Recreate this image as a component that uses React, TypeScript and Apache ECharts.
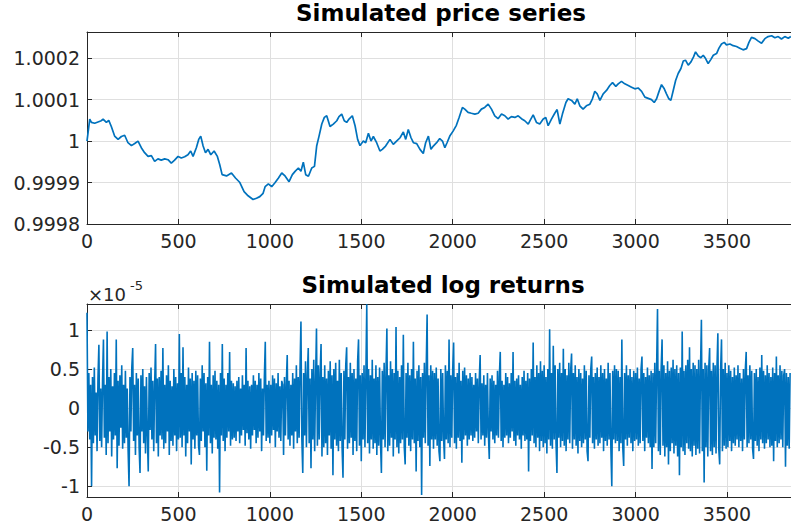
import React, { useEffect, useRef } from "react";
import * as echarts from "echarts";

// Simulated price series: [time index, price]
const priceSeries: [number, number][] = [
  [0,1],[15,1.000053],[24,1.000045],[42,1.000043],[60,1.000046],[78,1.000049],[88,1.000053],[106,1.000045],[119,1.00005],[133,1.000035],[151,1.000012],[170,1.000004],[188,1.000011],[206,1.000014],[224,0.999996],[243,0.999989],[261,0.999994],[279,1],[297,0.999984],[315,0.999972],[334,0.999963],[352,0.999965],[370,0.999951],[388,0.999957],[406,0.999954],[425,0.999957],[443,0.999955],[461,0.999947],[479,0.999954],[498,0.999963],[516,0.999959],[534,0.999962],[552,0.999967],[567,0.999976],[580,0.999963],[598,0.999984],[611,1.000004],[622,1.000012],[635,0.999988],[648,0.999972],[662,0.99998],[677,0.999967],[695,0.999976],[713,0.999963],[726,0.999943],[739,0.999919],[763,0.999916],[790,0.999923],[812,0.999911],[836,0.9999],[859,0.999878],[881,0.999868],[908,0.999859],[927,0.999862],[945,0.999866],[963,0.999874],[974,0.99989],[992,0.999897],[1010,0.99989],[1029,0.9999],[1047,0.999911],[1065,0.999923],[1083,0.999916],[1105,0.999902],[1123,0.999919],[1138,0.999927],[1156,0.999935],[1170,0.999927],[1183,0.999949],[1196,0.999919],[1211,0.999915],[1229,0.999935],[1244,0.999939],[1256,0.999988],[1269,1.000012],[1284,1.000041],[1298,1.000057],[1311,1.000061],[1329,1.000035],[1347,1.000041],[1366,1.000049],[1378,1.000059],[1393,1.000065],[1407,1.000049],[1420,1.000045],[1433,1.000053],[1451,1.000061],[1466,1.000037],[1480,1.000004],[1493,0.999989],[1511,1],[1524,0.999996],[1539,1.000019],[1553,1],[1566,1.000011],[1584,0.999996],[1602,0.999976],[1615,0.99998],[1633,0.999988],[1657,1.000004],[1675,0.999992],[1693,1],[1712,1.000008],[1730,1.000022],[1743,1.000004],[1757,1.000028],[1772,1.000008],[1785,0.999996],[1803,0.999994],[1821,0.99998],[1839,0.99997],[1852,0.999996],[1867,1.000012],[1881,0.99998],[1894,0.999988],[1912,0.999996],[1929,1.000006],[1944,1],[1957,0.999984],[1969,0.999996],[1984,1.000012],[2002,1.000024],[2020,1.000038],[2035,1.000057],[2053,1.000081],[2066,1.000077],[2084,1.000069],[2102,1.000067],[2121,1.000065],[2139,1.000067],[2157,1.000077],[2175,1.000081],[2194,1.000089],[2212,1.000077],[2230,1.000061],[2248,1.000054],[2267,1.000065],[2285,1.000061],[2303,1.000053],[2321,1.000059],[2340,1.000057],[2358,1.000061],[2376,1.000054],[2394,1.000049],[2413,1.000041],[2425,1.000051],[2440,1.000063],[2458,1.000045],[2476,1.000041],[2495,1.000053],[2509,1.000057],[2522,1.000037],[2540,1.000053],[2558,1.000067],[2571,1.000076],[2586,1.000041],[2600,1.000065],[2619,1.000093],[2631,1.000102],[2650,1.000098],[2668,1.000089],[2681,1.000102],[2695,1.000085],[2713,1.000077],[2731,1.000085],[2750,1.000089],[2764,1.000102],[2777,1.00012],[2790,1.000114],[2805,1.000098],[2823,1.000114],[2841,1.000122],[2859,1.000134],[2874,1.000141],[2892,1.000132],[2905,1.000138],[2923,1.000144],[2941,1.000138],[2960,1.000134],[2978,1.00013],[2996,1.000126],[3014,1.000128],[3033,1.00012],[3051,1.000106],[3069,1.000103],[3087,1.0001],[3102,1.000093],[3115,1.000102],[3127,1.000118],[3142,1.000136],[3157,1.000126],[3169,1.000114],[3182,1.000102],[3193,1.000098],[3206,1.000122],[3219,1.000146],[3233,1.000163],[3248,1.000175],[3261,1.000193],[3273,1.000195],[3288,1.000183],[3303,1.000191],[3317,1.000203],[3328,1.000215],[3343,1.000205],[3357,1.000201],[3370,1.000207],[3383,1.000199],[3397,1.000187],[3412,1.000197],[3425,1.000207],[3443,1.000211],[3456,1.000224],[3470,1.000234],[3485,1.000238],[3497,1.000232],[3516,1.000234],[3534,1.00023],[3552,1.000228],[3570,1.000224],[3588,1.00022],[3607,1.000223],[3620,1.000238],[3634,1.00025],[3653,1.000247],[3671,1.000241],[3689,1.000236],[3707,1.000247],[3725,1.000252],[3744,1.000254],[3762,1.000249],[3780,1.000252],[3798,1.000246],[3816,1.000252],[3835,1.000248],[3849,1.000252]
];

// Simulated log returns, one reading every returnStep time steps, in units of 1e-7
const returnStep = 5;
const logReturns: number[] = [
  122,-30,45,-40,30,-100,40,-45,52,-35,20,-55,38,81,-42,25,-50,35,88,-38,
  30,-60,98,-45,40,-30,50,-62,28,-40,45,-35,88,-77,35,-48,42,-25,55,-52,
  30,-45,48,-38,25,-55,-100,40,-30,52,77,-42,30,-60,45,-35,38,-50,-83,42,
  -30,50,-45,28,-58,40,-35,-81,45,-28,52,-40,35,-55,30,82,-45,38,-62,40,
  -35,48,-40,77,-52,30,-45,42,-30,55,-60,35,-42,28,-48,50,-35,40,-55,32,
  -40,95,-38,45,-50,78,-35,40,-62,30,-45,52,-30,38,-72,45,-40,35,-52,48,
  -35,42,-48,-60,38,-42,55,-30,45,-50,32,-80,40,-35,85,-45,30,-58,42,-38,
  48,-40,35,-52,30,-108,45,-35,82,-42,38,-55,30,-38,45,-30,72,-48,35,-40,
  32,-38,28,-42,35,-30,40,-45,25,-35,42,-28,30,-48,77,-32,35,-40,28,-52,
  30,-35,42,-28,35,-45,30,-38,45,-30,38,-55,25,-35,40,85,-42,30,-38,35,
  -45,30,-35,42,-28,38,-50,32,-30,45,-38,28,-42,35,30,-60,40,-35,32,68,
  -40,35,-48,30,-35,45,-52,38,-30,55,-45,40,-38,50,111,-40,-83,45,-35,60,
  -50,42,77,-45,38,-77,50,-40,62,-55,35,102,-48,55,-40,45,82,-62,40,-50,
  55,-45,38,-60,48,-35,60,-52,42,-86,50,-40,58,-48,35,-55,62,-42,45,-50,
  -89,48,-40,55,78,-52,40,-45,58,-38,45,-60,50,-42,38,-55,60,88,-48,42,
  -68,45,-40,55,-50,40,133,-45,50,-58,42,-40,62,-52,38,-45,55,-60,40,-48,
  52,-42,-83,48,-40,58,-50,45,102,-55,42,-48,60,-38,50,-62,45,-40,104,-50,
  48,-58,40,-45,55,-40,94,-50,-72,45,-38,58,-48,42,-55,50,-40,85,-45,38,
  -81,48,-42,55,-50,40,-111,45,-38,58,-45,50,120,-48,42,-74,55,-40,48,-52,
  45,-40,52,-48,38,-55,-68,50,-42,45,-38,-65,55,-40,48,-45,88,-50,42,-38,
  50,84,-45,40,-52,45,-38,58,-42,35,-70,48,-40,52,-35,42,-48,38,-40,45,
  -35,40,-42,30,-38,45,-30,38,-45,35,68,-40,32,-35,42,-48,30,-38,45,-32,
  -65,38,-30,42,-40,35,-45,30,-35,48,-38,40,72,-42,35,-50,30,-38,45,-35,
  40,-45,32,-38,45,-30,72,-42,35,-48,38,-35,42,-40,30,-52,40,-35,48,-42,
  35,-40,45,-81,38,-42,50,-35,84,-45,40,-50,55,-38,45,-55,60,-42,48,-50,
  55,-45,40,-58,50,-40,101,-48,45,-52,80,-40,55,-45,-83,50,-38,58,-50,45,
  -42,76,-48,50,-55,42,-40,58,-45,48,70,-52,45,-40,55,-48,40,-58,50,-42,
  45,-50,38,-45,55,-40,48,-55,-68,42,-38,50,66,-45,40,-52,45,-40,52,-48,
  40,-45,55,-38,45,-55,50,-42,38,-48,58,-40,45,-52,-100,48,-40,55,-45,50,
  -42,48,-55,40,-45,88,-50,-74,45,-40,55,-48,42,-38,50,-45,40,-55,48,-42,
  45,-40,52,-48,38,-45,50,66,-42,45,-55,40,-38,52,-45,42,-50,48,-78,45,
  -50,58,-45,50,127,-55,48,-60,52,88,-48,55,-62,45,-50,60,-72,48,-55,52,
  -45,62,-58,50,-48,55,-62,45,-86,52,-50,98,-55,48,-60,55,-45,62,-52,78,
  -55,50,-62,58,-48,55,-60,50,-52,62,-58,48,113,-55,50,-95,58,-50,55,-62,
  50,77,-55,48,-60,58,-50,55,-58,50,96,-52,-72,48,88,-55,50,-48,58,-52,
  45,-50,55,-42,48,-55,40,-45,52,-48,42,-40,55,-50,45,-42,38,-55,50,-40,
  48,72,-50,42,-45,55,-40,48,-52,-65,45,-42,50,-48,40,-55,52,-40,68,-45,
  48,-52,42,-45,55,-40,45,-50,40,-48,52,-68,45,-42,66,-50,42,-45,55,-40,
  48,-50,42,50,-75,45,-48,40,-52,45
];

const xTicks = [0, 500, 1000, 1500, 2000, 2500, 3000, 3500];
const priceTicks = [0.9998, 0.9999, 1, 1.0001, 1.0002];
const returnTicks = [-1, -0.5, 0, 0.5, 1];
const titles = ["Simulated price series", "Simulated log returns"];

const FONT = "DejaVu Sans";
const AX = "#262626";
const GRIDC = "#dfdfdf";
const LINE = "#0072BD";

function xAxes(gridIndex: number) {
  const base = {
    gridIndex,
    type: "value",
    min: 0,
    max: 3850,
  };
  return [
    {
      ...base,
      position: "bottom",
      axisLine: { show: true, onZero: false, lineStyle: { color: AX, width: 1 } },
      axisTick: { show: true, inside: true, length: 5, customValues: xTicks, lineStyle: { color: AX } },
      axisLabel: { customValues: xTicks, color: AX, fontSize: 19, fontFamily: FONT, margin: 7, formatter: (v: number) => String(v) },
      splitLine: { show: true, lineStyle: { color: GRIDC, width: 1 } },
    },
    {
      ...base,
      position: "top",
      axisLine: { show: true, onZero: false, lineStyle: { color: AX, width: 1 } },
      axisTick: { show: true, inside: true, length: 5, customValues: xTicks, lineStyle: { color: AX } },
      axisLabel: { show: false },
      splitLine: { show: false },
    },
  ];
}

export default function App() {
  const ref = useRef<HTMLDivElement>(null);
  useEffect(() => {
    if (!ref.current) return;
    const chart = echarts.init(ref.current, undefined, { renderer: "svg" });
    const priceData = priceSeries.map(([t, p]) => [t, p]);
    const returnData = logReturns.map((r, i) => [i * returnStep, r / 100]);
    chart.setOption({
      animation: false,
      backgroundColor: "#ffffff",
      grid: [
        { left: 87, top: 32, width: 704, height: 192 },
        { left: 87, top: 304, width: 704, height: 193 },
      ],
      xAxis: [...xAxes(0), ...xAxes(1)],
      yAxis: [
        {
          gridIndex: 0,
          type: "value",
          min: 0.9998,
          max: 1.000263,
          axisLine: { show: true, onZero: false, lineStyle: { color: AX, width: 1 } },
          axisTick: { show: true, inside: true, length: 5, customValues: priceTicks, lineStyle: { color: AX } },
          axisLabel: { customValues: priceTicks, color: AX, fontSize: 19, fontFamily: FONT, margin: 7, formatter: (v: number) => String(+v.toFixed(4)) },
          splitLine: { show: true, lineStyle: { color: GRIDC, width: 1 } },
        },
        {
          gridIndex: 1,
          type: "value",
          min: -1.137,
          max: 1.333,
          axisLine: { show: true, onZero: false, lineStyle: { color: AX, width: 1 } },
          axisTick: { show: true, inside: true, length: 5, customValues: returnTicks, lineStyle: { color: AX } },
          axisLabel: { customValues: returnTicks, color: AX, fontSize: 19, fontFamily: FONT, margin: 7, formatter: (v: number) => String(+v.toFixed(2)) },
          splitLine: { show: true, lineStyle: { color: GRIDC, width: 1 } },
        },
      ],
      graphic: [
        {
          type: "text",
          x: 441,
          y: 13,
          style: { text: titles[0], fill: "#000", fontSize: 23, fontWeight: "bold", fontFamily: FONT, align: "center", verticalAlign: "middle" },
        },
        {
          type: "text",
          x: 443,
          y: 285,
          style: { text: titles[1], fill: "#000", fontSize: 23, fontWeight: "bold", fontFamily: FONT, align: "center", verticalAlign: "middle" },
        },
        {
          type: "text",
          x: 88,
          y: 294,
          style: { text: "×10", fill: AX, fontSize: 18, fontFamily: FONT, align: "left", verticalAlign: "middle" },
        },
        {
          type: "text",
          x: 130,
          y: 285,
          style: { text: "-5", fill: AX, fontSize: 13, fontFamily: FONT, align: "left", verticalAlign: "middle" },
        },
      ],
      series: [
        {
          type: "line",
          xAxisIndex: 0,
          yAxisIndex: 0,
          data: priceData,
          symbol: "none",
          lineStyle: { color: LINE, width: 1.7 },
          clip: true,
        },
        {
          type: "line",
          xAxisIndex: 2,
          yAxisIndex: 1,
          data: returnData,
          symbol: "none",
          lineStyle: { color: LINE, width: 1.6 },
          clip: true,
        },
      ],
    });
    return () => chart.dispose();
  }, []);
  return (
    <div
      ref={ref}
      style={{ position: "absolute", left: 0, top: 0, width: 791, height: 527, overflow: "hidden" }}
    />
  );
}
